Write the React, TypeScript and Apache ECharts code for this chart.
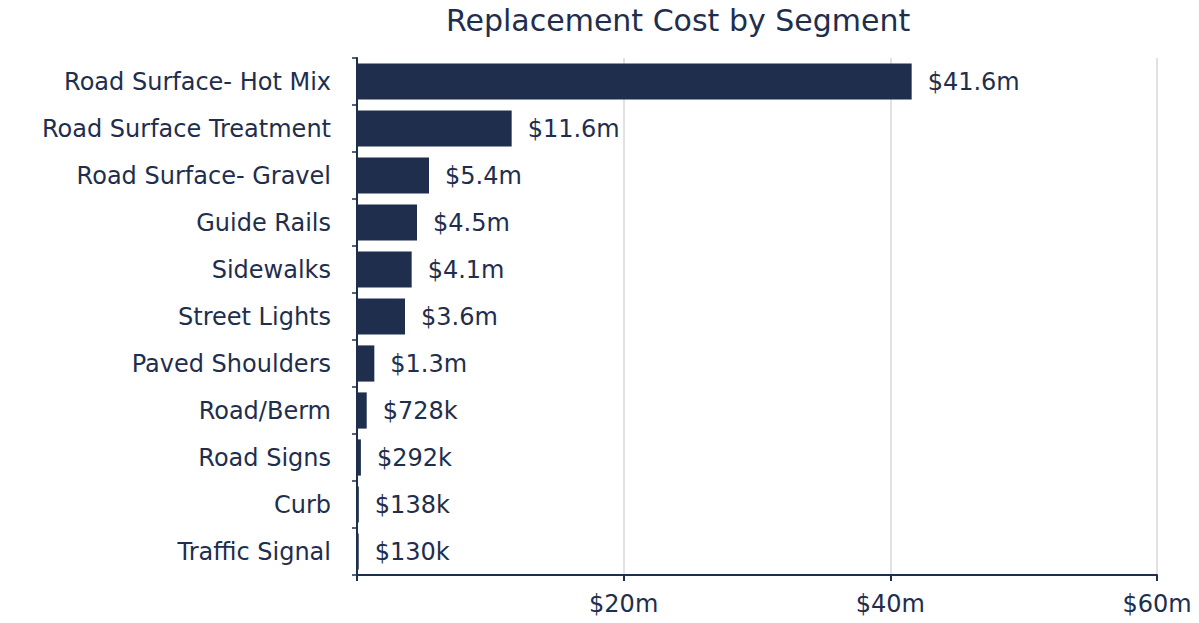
import React, { useEffect, useRef } from "react";
import * as echarts from "echarts";

const categories = [
  "Road Surface- Hot Mix",
  "Road Surface Treatment",
  "Road Surface- Gravel",
  "Guide Rails",
  "Sidewalks",
  "Street Lights",
  "Paved Shoulders",
  "Road/Berm",
  "Road Signs",
  "Curb",
  "Traffic Signal",
];
// values in $ millions
const values = [41.6, 11.6, 5.4, 4.5, 4.1, 3.6, 1.3, 0.728, 0.292, 0.138, 0.13];
const xTicks = [0, 20, 40, 60];

const NAVY = "#1e2e4c";
const FONT = "Verdana, 'DejaVu Sans', sans-serif";

function fmt(v: number): string {
  if (v >= 1) return "$" + v.toFixed(1) + "m";
  return "$" + Math.round(v * 1000) + "k";
}

export default function App() {
  const ref = useRef<HTMLDivElement>(null);
  useEffect(() => {
    document.body.style.margin = "0";
    const chart = echarts.init(ref.current!, null, { renderer: "svg" });
    chart.setOption({
      animation: false,
      backgroundColor: "#ffffff",
      textStyle: { fontFamily: FONT, color: NAVY },
      title: {
        text: "Replacement Cost by Segment",
        left: 441,
        top: 0,
        textStyle: { fontFamily: FONT, fontSize: 30, fontWeight: "normal", color: NAVY },
      },
      grid: { left: 357, right: 42, top: 58, bottom: 48, containLabel: false },
      xAxis: {
        type: "value",
        min: xTicks[0],
        max: xTicks[xTicks.length - 1],
        interval: 20,
        axisLine: { show: true, lineStyle: { color: NAVY, width: 2 } },
        axisTick: { show: true, length: 6, lineStyle: { color: NAVY, width: 2 } },
        splitLine: { show: true, lineStyle: { color: "#d9d9d9", width: 1.5 } },
        axisLabel: {
          fontFamily: FONT,
          fontSize: 24,
          color: NAVY,
          margin: 17,
          formatter: (v: number) => (v === 0 ? "" : "$" + v + "m"),
        },
      },
      yAxis: {
        type: "category",
        data: categories,
        inverse: true,
        axisLine: { show: true, lineStyle: { color: NAVY, width: 2 } },
        axisTick: { show: true, length: 5, lineStyle: { color: NAVY, width: 1.5 } },
        splitLine: { show: false },
        axisLabel: { fontFamily: FONT, fontSize: 24, color: NAVY, margin: 26 },
      },
      series: [
        {
          type: "bar",
          data: values,
          barCategoryGap: "23%",
          itemStyle: { color: NAVY },
          label: {
            show: true,
            position: "right",
            distance: 16,
            fontFamily: FONT,
            fontSize: 24,
            color: NAVY,
            formatter: (p: any) => fmt(p.value),
          },
        },
      ],
    });
    return () => chart.dispose();
  }, []);
  return <div ref={ref} style={{ width: 1199, height: 623 }} />;
}
